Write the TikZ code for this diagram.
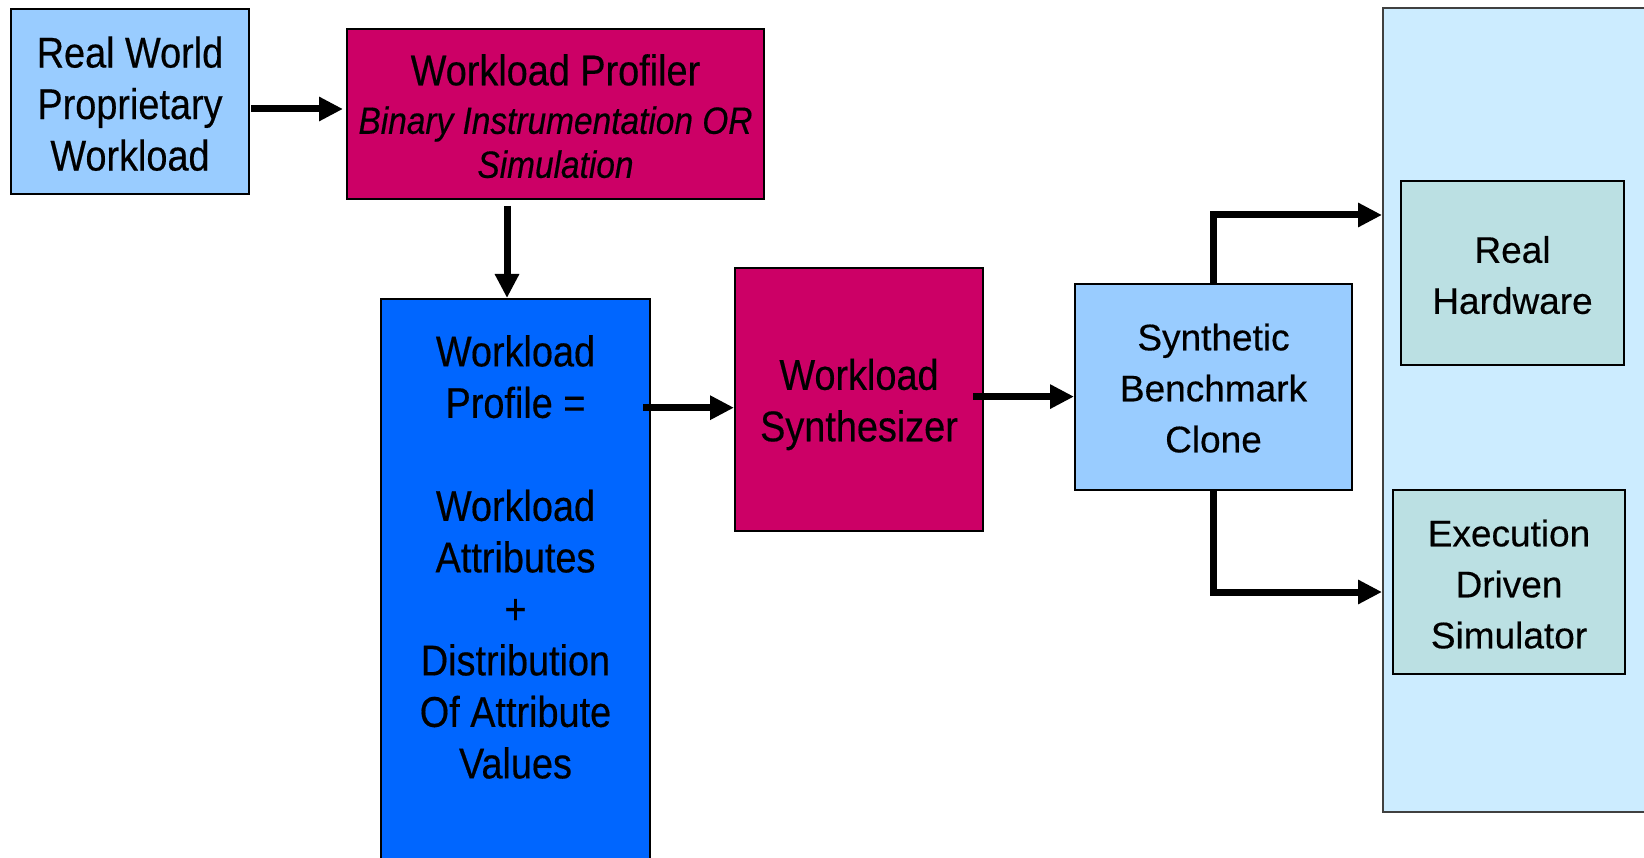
\documentclass[tikz,border=0pt]{standalone}
\usepackage{fontspec}
\usetikzlibrary{arrows.meta}
\newfontfamily\narrowsans[FakeStretch=0.88,FakeBold=0.4]{Liberation Sans}
\newfontfamily\widesans[FakeBold=0.4]{Liberation Sans}
\newcommand\topstrut[1]{\rule{0pt}{#1}}
\definecolor{skyblue}{HTML}{99CCFF}
\definecolor{berry}{HTML}{CC0066}
\definecolor{royal}{HTML}{0066FF}
\definecolor{paleblue}{HTML}{CCECFF}
\definecolor{seafoam}{HTML}{BBE0E3}
\begin{document}
\begin{tikzpicture}[x=1pt,y=-1pt,
  box/.style={draw=black, line width=1.8pt, inner sep=0pt, outer sep=0pt,
              anchor=north west, align=center},
  narrowtext/.style={font=\narrowsans\fontsize{43}{51.5}\selectfont},
  widetext/.style={font=\widesans\fontsize{37}{51}\selectfont},
  flow/.style={line width=7pt, -{Triangle[length=24pt,width=23pt]}},
]
\useasboundingbox (0,0) rectangle (1644,858);
\fill[white] (0,0) rectangle (1644,858);
\clip (0,0) rectangle (1644,858);

% reference levels for the connectors
\coordinate (rowA) at (0,109);
\coordinate (colB) at (507,0);
\coordinate (rowC) at (0,407.7);
\coordinate (rowD) at (0,396.6);
\coordinate (rowE) at (0,215);
\coordinate (rowF) at (0,592);

% right-hand target panel
\node[box, fill=paleblue, draw=black!75, line width=1.5pt,
      minimum width=400pt, minimum height=804pt] (targets) at (1383,8) {};
\node[box, fill=seafoam, minimum width=223pt, minimum height=184pt, widetext]
  (hardware) at (1401,181) {\topstrut{31pt}Real\\Hardware};
\node[box, fill=seafoam, minimum width=232pt, minimum height=184pt, widetext]
  (simulator) at (1393,490) {\topstrut{31pt}Execution\\Driven\\Simulator};

% pipeline boxes
\node[box, fill=skyblue, minimum width=238pt, minimum height=185pt, narrowtext]
  (source) at (11,9) {\topstrut{35.5pt}Real World\\Proprietary\\Workload};
\node[box, fill=berry, minimum width=417pt, minimum height=170pt,
      font=\narrowsans\fontsize{38}{44}\selectfont]
  (profiler) at (347,29)
  {{\fontsize{43}{44}\selectfont\topstrut{35.5pt}Workload Profiler}\\[4.5pt]
   \itshape Binary Instrumentation OR\\\itshape Simulation};
\node[box, fill=royal, minimum width=269pt, minimum height=620pt]
  (profile) at (381,299) {};
\node[anchor=north, align=center, inner sep=0pt, narrowtext]
  (profiletext) at (515.5,335)
  {Workload\\Profile =\\[51.5pt]Workload\\Attributes\\+\\Distribution\\Of Attribute\\Values};
\node[box, fill=berry, minimum width=248pt, minimum height=263pt, narrowtext]
  (synth) at (735,268) {\topstrut{41pt}Workload\\Synthesizer};
\node[box, fill=skyblue, minimum width=277pt, minimum height=206pt, widetext]
  (clone) at (1075,284) {\topstrut{29pt}Synthetic\\Benchmark\\Clone};

% connectors
\draw[flow] ([xshift=2pt]source.east |- rowA) -- ([xshift=-4pt]profiler.west |- rowA);
\draw[flow] ([yshift=-7pt]profiler.south -| colB) -- ([yshift=1pt]profile.north -| colB);
\draw[flow] ([xshift=-7pt]profile.east |- rowC) -- ([xshift=-1pt]synth.west |- rowC);
\draw[flow] ([xshift=-10pt]synth.east |- rowD) -- ([xshift=-1pt]clone.west |- rowD);
\draw[flow] (clone.north) |- ([xshift=-1pt]targets.west |- rowE);
\draw[flow] (clone.south) |- ([xshift=-1pt]targets.west |- rowF);
\end{tikzpicture}
\end{document}
